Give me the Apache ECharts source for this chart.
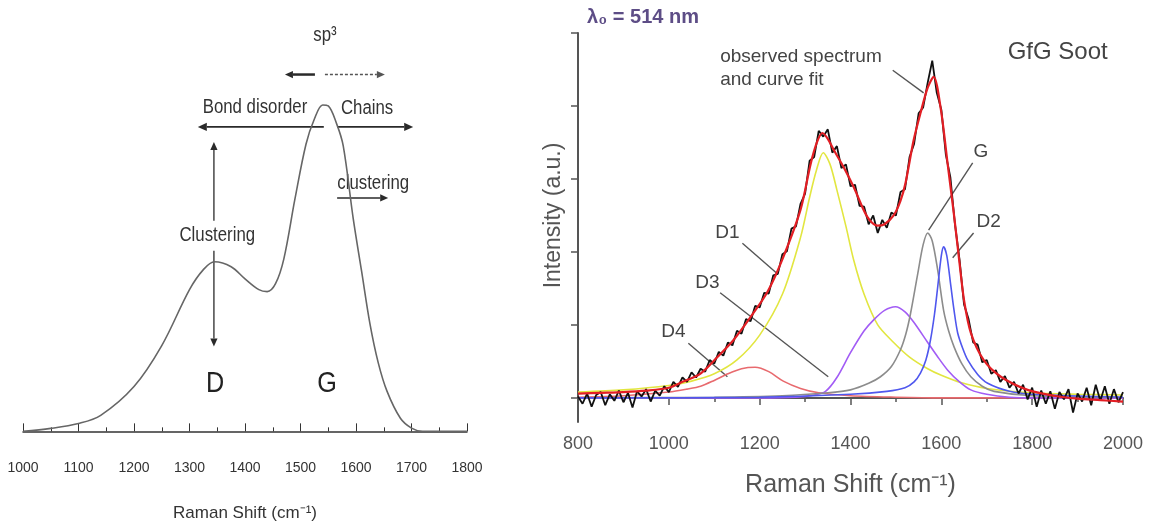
<!DOCTYPE html>
<html><head><meta charset="utf-8">
<script src="https://cdn.jsdelivr.net/npm/echarts@6/dist/echarts.min.js"></script>
<style>html,body{margin:0;padding:0;background:#fff}#c{width:1152px;height:527px}</style>
</head><body><div id="c"></div>
<script>
// ---------- Left panel: schematic spectrum ----------
const leftShift = [1000,1050,1100,1140,1200,1250,1300,1325,1345,1375,1400,1425,1440,1455,1470,1490,1510,1525,1540,1550,1565,1577,1595,1610,1625,1640,1656,1680,1700,1720,1800];
const leftIntensity = [0,0.9,2.4,4.9,13.7,26.2,43.3,49.4,51.8,50.3,46.6,43.3,42.7,45.1,52.7,71,87.8,95.4,99.7,99.4,94,87.2,65,49,33,21,12.2,4,1,0,0];

// ---------- Right panel: GfG soot spectrum & fit ----------
const obsStart = 800, obsStep = 10;
const observed = [
 0.02,-0.08,0.06,-0.12,0.04,0.08,-0.1,0.05,-0.04,0.1,-0.06,0.07,-0.13,0.09,0.02,0.12,-0.05,0.1,0.03,0.16,
 0.08,0.22,0.15,0.28,0.22,0.35,0.28,0.4,0.36,0.52,0.47,0.63,0.58,0.76,0.72,0.92,0.88,1.08,1.05,1.26,
 1.24,1.44,1.43,1.68,1.7,1.97,2.01,2.32,2.35,2.66,2.8,3.25,3.3,3.66,3.58,3.68,3.36,3.45,3.15,3.2,
 2.9,2.92,2.63,2.62,2.38,2.5,2.26,2.44,2.33,2.54,2.5,2.82,2.86,3.3,3.48,3.9,3.98,4.32,4.62,4.18,
 3.95,3.33,3.02,2.38,1.9,1.28,1.08,0.76,0.73,0.49,0.52,0.33,0.38,0.22,0.3,0.14,0.22,0.06,0.18,-0.02,
 0.14,-0.12,0.1,-0.08,0.09,-0.15,0.08,-0.02,0.12,-0.2,0.06,-0.05,0.14,-0.1,0.18,-0.04,0.16,-0.08,0.12,-0.06,
 0.08];
const fitCurve = [[800,0.06],[850,0.07],[900,0.08],[950,0.1],[1000,0.14],[1030,0.22],[1069,0.33],[1107,0.56],[1142,0.79],[1179,1.1],[1217,1.45],[1252,1.93],[1290,2.58],[1312,3.2],[1326,3.5],[1338,3.63],[1350,3.55],[1363,3.4],[1385,3.16],[1407,2.89],[1437,2.48],[1459,2.36],[1475,2.38],[1495,2.5],[1510,2.7],[1521,2.94],[1539,3.53],[1554,3.9],[1570,4.25],[1583,4.4],[1599,3.95],[1614,3.2],[1628,2.5],[1640,1.85],[1650,1.34],[1665,0.89],[1693,0.52],[1731,0.29],[1790,0.11],[1848,0.03],[1900,-0.01],[1950,-0.03],[2000,-0.05]];
const bandD1 = [[800,0.08],[900,0.11],[1000,0.17],[1050,0.23],[1100,0.33],[1150,0.52],[1200,0.86],[1250,1.42],[1290,2.2],[1310,2.75],[1325,3.12],[1340,3.36],[1355,3.2],[1370,2.85],[1390,2.35],[1407,1.89],[1430,1.42],[1460,1.0],[1495,0.76],[1530,0.56],[1570,0.4],[1600,0.31],[1643,0.21],[1700,0.13],[1800,0.07],[1900,0.05],[2000,0.04]];
const bandD4 = [[800,0.01],[900,0.03],[1000,0.08],[1040,0.12],[1070,0.16],[1100,0.24],[1130,0.33],[1160,0.4],[1190,0.42],[1220,0.36],[1252,0.23],[1290,0.13],[1330,0.07],[1400,0.03],[1500,0.01],[1600,0],[2000,0]];
const bandD3 = [[800,0],[1200,0],[1280,0.01],[1320,0.04],[1345,0.09],[1370,0.28],[1400,0.62],[1430,0.92],[1451,1.07],[1475,1.2],[1499,1.25],[1520,1.18],[1539,1.04],[1570,0.76],[1590,0.58],[1614,0.38],[1640,0.22],[1665,0.11],[1700,0.05],[1750,0.01],[1800,0],[2000,0]];
const bandG = [[800,0],[1100,0.01],[1250,0.03],[1350,0.07],[1400,0.11],[1440,0.2],[1466,0.29],[1490,0.43],[1510,0.66],[1522,0.88],[1532,1.15],[1548,1.7],[1560,2.1],[1570,2.26],[1580,2.15],[1592,1.75],[1605,1.2],[1616,0.92],[1628,0.7],[1645,0.47],[1665,0.29],[1690,0.16],[1716,0.09],[1800,0.03],[2000,0.01]];
const bandD2 = [[800,0],[1200,0.01],[1400,0.05],[1480,0.09],[1520,0.14],[1540,0.22],[1554,0.34],[1566,0.52],[1576,0.79],[1585,1.15],[1592,1.52],[1600,1.95],[1605,2.07],[1612,1.95],[1620,1.58],[1628,1.2],[1636,0.89],[1647,0.68],[1658,0.52],[1680,0.32],[1702,0.2],[1750,0.09],[1800,0.05],[2000,0.01]];
const intensityTicks = [0,1,2,3,4,5];

const SANS = '"Liberation Sans",Arial,Helvetica,sans-serif';

const chart = echarts.init(document.getElementById('c'));
const obsData = observed.map((v,i)=>[obsStart+i*obsStep, v]);
function band(data,color,w){return {type:'line',xAxisIndex:1,yAxisIndex:1,data:data,smooth:0.3,showSymbol:false,silent:true,lineStyle:{color:color,width:w||1.6}};}
const plain = v => String(v);

chart.setOption({
  animation:false,
  backgroundColor:'#fff',
  grid:[{left:23,width:444,top:104,height:348},{left:578,width:545,top:33,height:389}],
  xAxis:[
    {gridIndex:0,type:'value',min:1000,max:1800,interval:100,
     axisLine:{lineStyle:{color:'#333',width:1.5}},
     axisTick:{inside:true,length:8,lineStyle:{color:'#333'}},
     minorTick:{show:true,splitNumber:2,length:4,lineStyle:{color:'#333'}},
     axisLabel:{fontFamily:SANS,fontSize:14,color:'#333',margin:10,formatter:plain},
     splitLine:{show:false},
     name:'Raman Shift (cm\u207B\u00B9)',nameLocation:'middle',nameGap:54,
     nameTextStyle:{fontFamily:SANS,fontSize:17,color:'#333'}},
    {gridIndex:1,type:'value',min:800,max:2000,interval:200,
     axisLine:{lineStyle:{color:'#555',width:2}},
     axisTick:{length:7,lineStyle:{color:'#555',width:1.5}},
     minorTick:{show:true,splitNumber:2,length:4,lineStyle:{color:'#555',width:1.5}},
     axisLabel:{fontFamily:SANS,fontSize:18,color:'#555',margin:13,formatter:plain},
     splitLine:{show:false},
     name:'Raman Shift (cm\u207B\u00B9)',nameLocation:'middle',nameGap:51,
     nameTextStyle:{fontFamily:SANS,fontSize:25,color:'#555'}}
  ],
  yAxis:[
    {gridIndex:0,type:'value',min:-6,max:100,show:false},
    {gridIndex:1,type:'value',min:-0.33,max:5,
     axisLine:{show:true,lineStyle:{color:'#555',width:2}},
     axisTick:{show:true,length:7,customValues:intensityTicks,lineStyle:{color:'#555',width:1.5}},
     axisLabel:{show:false},
     splitLine:{show:false}}
  ],
  series:[
    {type:'line',xAxisIndex:0,yAxisIndex:0,data:leftShift.map((x,i)=>[x,leftIntensity[i]]),
     smooth:0.35,showSymbol:false,lineStyle:{color:'#666',width:1.6}},
    band(bandD1,'#e2e640'),
    band(bandD4,'#e86a6e'),
    band(bandD3,'#a25cf5'),
    band(bandG,'#8c8c8c'),
    band(bandD2,'#4f57ee'),
    {type:'line',xAxisIndex:1,yAxisIndex:1,data:obsData,showSymbol:false,lineStyle:{color:'#111',width:1.8}},
    {type:'line',xAxisIndex:1,yAxisIndex:1,data:fitCurve,smooth:0.3,showSymbol:false,lineStyle:{color:'#e31e24',width:2.2}}
  ]
});

// ---------- annotations (anchored in data coordinates) ----------
function P(g,pt){return chart.convertToPixel({gridIndex:g},pt);}
function txt(g,pt,text,size,opt){
  opt=opt||{};
  const p=P(g,pt);
  return {type:'text',x:p[0],y:p[1],rotation:opt.rot||0,scaleX:opt.sx||1,silent:true,
    style:{text:text,fontSize:size,fontFamily:SANS,fontWeight:opt.weight||'normal',
    fill:opt.color||'#333',align:opt.align||'center',verticalAlign:'middle'}};
}
function seg(g,a,b,color,w,dash){
  const p1=P(g,a),p2=P(g,b);
  return {type:'line',silent:true,shape:{x1:p1[0],y1:p1[1],x2:p2[0],y2:p2[1]},style:{stroke:color,lineWidth:w,lineDash:dash||null}};
}
function arrow(g,a,b,color,w,head,dash){
  const p1=P(g,a),p2=P(g,b);
  const dx=p2[0]-p1[0],dy=p2[1]-p1[1],L=Math.hypot(dx,dy),ux=dx/L,uy=dy/L;
  const hw=head*0.45,bx=p2[0]-ux*head,by=p2[1]-uy*head;
  return [
    {type:'line',silent:true,shape:{x1:p1[0],y1:p1[1],x2:bx,y2:by},style:{stroke:color,lineWidth:w,lineDash:dash||null}},
    {type:'polygon',silent:true,shape:{points:[[p2[0],p2[1]],[bx-uy*hw,by+ux*hw],[bx+uy*hw,by-ux*hw]]},style:{fill:color}}
  ];
}
const K='#2a2a2a', N={sx:0.84};
const els=[].concat(
  [txt(0,[1544,121],'sp\u00B3',20,N)],
  arrow(0,[1526,109],[1472,109],K,2.5,8),
  arrow(0,[1544,109],[1652,109],'#555',1.5,8,[3,2]),
  [txt(0,[1418,99],'Bond disorder',20,N), txt(0,[1620,98.5],'Chains',20,N)],
  arrow(0,[1542,93],[1315,93],K,1.8,9),
  arrow(0,[1566,93],[1703,93],K,1.8,9),
  [txt(0,[1631,75.6],'clustering',20,N)],
  arrow(0,[1566,71.3],[1658,71.3],K,1.5,8),
  arrow(0,[1344,64.3],[1344,88.4],K,1.3,8),
  [txt(0,[1350,59.8],'Clustering',20,N)],
  arrow(0,[1344,55.2],[1344,25.9],K,1.3,8),
  [txt(0,[1346,14.6],'D',30,{sx:0.84,color:'#222'}), txt(0,[1548,14.6],'G',30,{sx:0.84,color:'#222'})],
  // right panel
  [txt(1,[820,5.21],'\u03BB\u2080 = 514 nm',20,{align:'left',weight:'bold',color:'#5d4d86'}),
   txt(1,[747,2.5],'Intensity (a.u.)',23,{rot:Math.PI/2,color:'#555'}),
   txt(1,[1113,4.67],'observed spectrum',19,{align:'left',color:'#444'}),
   txt(1,[1113,4.36],'and curve fit',19,{align:'left',color:'#444'}),
   seg(1,[1493,4.49],[1561,4.18],'#555',1.4),
   txt(1,[1746,4.73],'GfG Soot',24,{align:'left',color:'#444'}),
   txt(1,[1129,2.26],'D1',19,{color:'#444'}),
   seg(1,[1162,2.12],[1239,1.7],'#555',1.4),
   txt(1,[1085,1.58],'D3',19,{color:'#444'}),
   seg(1,[1113,1.44],[1351,0.29],'#555',1.4),
   txt(1,[1010,0.9],'D4',19,{color:'#444'}),
   seg(1,[1043,0.75],[1129,0.29],'#555',1.4),
   txt(1,[1687,3.37],'G',19,{color:'#444'}),
   seg(1,[1669,3.22],[1572,2.3],'#555',1.4),
   txt(1,[1704,2.41],'D2',19,{color:'#444'}),
   seg(1,[1671,2.26],[1625,1.92],'#555',1.4)]
);
chart.setOption({graphic:{elements:els}});
</script>
</body></html>
